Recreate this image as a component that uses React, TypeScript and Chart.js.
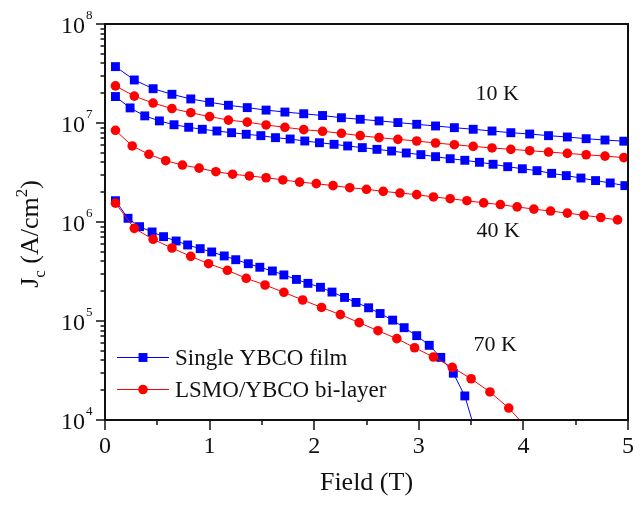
import React, { useEffect, useRef } from 'react';
import { Chart, registerables } from 'chart.js';

Chart.register(...registerables);

// ---------- data (field in T, Jc in A/cm^2) ----------
const FIELD_YBCO_10K = [0.10, 0.28, 0.46, 0.64, 0.82, 1.00, 1.18, 1.36, 1.54, 1.72, 1.90, 2.08, 2.26, 2.44, 2.62, 2.80, 2.98, 3.16, 3.34, 3.52, 3.70, 3.88, 4.06, 4.24, 4.42, 4.60, 4.78, 4.96];
const JC_YBCO_10K = [3.71e7, 2.72e7, 2.22e7, 1.95e7, 1.75e7, 1.62e7, 1.51e7, 1.43e7, 1.35e7, 1.29e7, 1.24e7, 1.19e7, 1.13e7, 1.09e7, 1.05e7, 1.01e7, 9.7e6, 9.33e6, 8.97e6, 8.64e6, 8.30e6, 7.98e6, 7.74e6, 7.45e6, 7.22e6, 6.94e6, 6.73e6, 6.55e6];

const FIELD_LSMO_10K = [0.10, 0.28, 0.46, 0.64, 0.82, 1.00, 1.18, 1.36, 1.54, 1.72, 1.90, 2.08, 2.26, 2.44, 2.62, 2.80, 2.98, 3.16, 3.34, 3.52, 3.70, 3.88, 4.06, 4.24, 4.42, 4.60, 4.78, 4.96];
const JC_LSMO_10K = [2.37e7, 1.87e7, 1.59e7, 1.40e7, 1.27e7, 1.16e7, 1.07e7, 1.02e7, 9.55e6, 9.05e6, 8.57e6, 8.25e6, 7.87e6, 7.45e6, 7.11e6, 6.84e6, 6.58e6, 6.28e6, 6.04e6, 5.80e6, 5.60e6, 5.42e6, 5.25e6, 5.09e6, 4.93e6, 4.78e6, 4.63e6, 4.47e6];

const FIELD_YBCO_40K = [0.10, 0.24, 0.38, 0.52, 0.66, 0.80, 0.93, 1.07, 1.21, 1.35, 1.49, 1.63, 1.77, 1.91, 2.05, 2.19, 2.32, 2.46, 2.60, 2.74, 2.88, 3.02, 3.16, 3.30, 3.44, 3.58, 3.71, 3.85, 3.99, 4.13, 4.27, 4.41, 4.55, 4.69, 4.83, 4.97];
const JC_YBCO_40K = [1.85e7, 1.42e7, 1.18e7, 1.05e7, 9.6e6, 9.05e6, 8.64e6, 8.30e6, 7.98e6, 7.69e6, 7.45e6, 7.11e6, 6.89e6, 6.58e6, 6.32e6, 6.09e6, 5.86e6, 5.64e6, 5.42e6, 5.21e6, 4.98e6, 4.79e6, 4.57e6, 4.36e6, 4.20e6, 4.01e6, 3.83e6, 3.62e6, 3.45e6, 3.30e6, 3.10e6, 2.94e6, 2.78e6, 2.62e6, 2.48e6, 2.33e6];

const FIELD_LSMO_40K = [0.10, 0.26, 0.42, 0.58, 0.74, 0.90, 1.06, 1.22, 1.38, 1.54, 1.70, 1.86, 2.02, 2.18, 2.34, 2.50, 2.66, 2.82, 2.98, 3.14, 3.30, 3.46, 3.62, 3.78, 3.94, 4.10, 4.26, 4.42, 4.58, 4.74, 4.90];
const JC_LSMO_40K = [8.44e6, 5.86e6, 4.83e6, 4.16e6, 3.76e6, 3.50e6, 3.22e6, 3.04e6, 2.92e6, 2.80e6, 2.66e6, 2.53e6, 2.44e6, 2.33e6, 2.22e6, 2.14e6, 2.04e6, 1.96e6, 1.89e6, 1.79e6, 1.72e6, 1.64e6, 1.56e6, 1.50e6, 1.42e6, 1.35e6, 1.29e6, 1.23e6, 1.17e6, 1.11e6, 1.05e6];

const FIELD_YBCO_70K = [0.10, 0.22, 0.33, 0.45, 0.56, 0.68, 0.79, 0.91, 1.02, 1.14, 1.25, 1.37, 1.48, 1.60, 1.71, 1.83, 1.94, 2.06, 2.17, 2.29, 2.40, 2.52, 2.63, 2.75, 2.86, 2.98, 3.10, 3.21, 3.33, 3.44, 3.56];
const JC_YBCO_70K = [1.64e6, 1.09e6, 8.97e5, 7.93e5, 7.11e5, 6.43e5, 5.86e5, 5.38e5, 4.98e5, 4.54e5, 4.16e5, 3.79e5, 3.49e5, 3.20e5, 2.92e5, 2.63e5, 2.40e5, 2.19e5, 1.96e5, 1.73e5, 1.54e5, 1.36e5, 1.19e5, 1.02e5, 8.56e4, 7.11e4, 5.68e4, 4.29e4, 2.97e4, 1.75e4, 6.5e3];

const FIELD_LSMO_70K = [0.10, 0.28, 0.46, 0.64, 0.82, 0.99, 1.17, 1.35, 1.53, 1.71, 1.89, 2.07, 2.25, 2.43, 2.61, 2.79, 2.96, 3.14, 3.32, 3.50, 3.68, 3.86, 4.04];
const JC_LSMO_70K = [1.55e6, 8.63e5, 6.69e5, 5.46e5, 4.50e5, 3.79e5, 3.25e5, 2.70e5, 2.31e5, 1.95e5, 1.63e5, 1.37e5, 1.16e5, 9.62e4, 7.98e4, 6.63e4, 5.37e4, 4.33e4, 3.40e4, 2.61e4, 1.92e4, 1.32e4, 8.2e3];

const SERIES_NAMES = ['Single YBCO film', 'LSMO/YBCO bi-layer'];
const TEMP_LABELS = ['10 K', '40 K', '70 K'];
const X_MAJOR_TICKS = [0, 1, 2, 3, 4, 5];
const X_MINOR_TICKS = [0.5, 1.5, 2.5, 3.5, 4.5];
const Y_DECADES = [4, 5, 6, 7, 8];
const X_TITLE = 'Field (T)';

// ---------- styling ----------
const BLUE = '#0000ff';
const RED = '#ff0000';
const INK = '#111111';
const SERIF = '"Liberation Serif", "Times New Roman", serif';
const SQ_R = 6.3;
const CI_R = 4.8;

const pts = (xs: number[], ys: number[]) => xs.map((x, i) => ({ x, y: ys[i] }));

const blueSet = (xs: number[], ys: number[]) => ({
  data: pts(xs, ys),
  borderColor: BLUE,
  backgroundColor: BLUE,
  borderWidth: 1,
  pointStyle: 'rect',
  pointRadius: SQ_R,
  pointBorderWidth: 0,
  pointBackgroundColor: BLUE,
  tension: 0,
  order: 1,
});
const redSet = (xs: number[], ys: number[]) => ({
  data: pts(xs, ys),
  borderColor: RED,
  backgroundColor: RED,
  borderWidth: 1,
  pointStyle: 'circle',
  pointRadius: CI_R,
  pointBorderWidth: 0,
  pointBackgroundColor: RED,
  tension: 0,
  order: 0,
});

const overlay = {
  id: 'overlay',
  afterDraw(chart: any) {
    const ctx: CanvasRenderingContext2D = chart.ctx;
    const { left, right, top, bottom } = chart.chartArea;
    const xs = chart.scales.x;
    const ys = chart.scales.y;
    ctx.save();
    ctx.strokeStyle = INK;
    ctx.fillStyle = INK;

    // frame
    ctx.lineWidth = 2;
    ctx.strokeRect(left, top, right - left, bottom - top);

    // x ticks
    ctx.lineWidth = 1.5;
    ctx.beginPath();
    for (const v of X_MAJOR_TICKS) {
      const px = Math.round(xs.getPixelForValue(v));
      ctx.moveTo(px, bottom);
      ctx.lineTo(px, bottom + 10);
    }
    for (const v of X_MINOR_TICKS) {
      const px = Math.round(xs.getPixelForValue(v));
      ctx.moveTo(px, bottom);
      ctx.lineTo(px, bottom + 5);
    }
    // y ticks
    for (const e of Y_DECADES) {
      const py = Math.round(ys.getPixelForValue(Math.pow(10, e)));
      ctx.moveTo(left, py);
      ctx.lineTo(left - 9, py);
      if (e < 8) {
        for (let m = 2; m <= 9; m++) {
          const q = Math.round(ys.getPixelForValue(m * Math.pow(10, e)));
          ctx.moveTo(left, q);
          ctx.lineTo(left - 4.5, q);
        }
      }
    }
    ctx.stroke();

    // x tick labels
    ctx.font = `24px ${SERIF}`;
    ctx.textAlign = 'center';
    ctx.textBaseline = 'alphabetic';
    for (const v of X_MAJOR_TICKS) {
      ctx.fillText(String(v), xs.getPixelForValue(v), bottom + 33);
    }
    // y tick labels 10^n
    for (const e of Y_DECADES) {
      const py = ys.getPixelForValue(Math.pow(10, e));
      ctx.font = `24px ${SERIF}`;
      ctx.textAlign = 'right';
      ctx.fillText('10', left - 20, py + 9);
      ctx.font = `13px ${SERIF}`;
      ctx.textAlign = 'left';
      ctx.fillText(String(e), left - 19, py - 5);
    }

    // x title
    ctx.font = `26px ${SERIF}`;
    ctx.textAlign = 'center';
    ctx.fillText(X_TITLE, (left + right) / 2, bottom + 70);

    // y title: J_c (A/cm^2)
    ctx.save();
    ctx.translate(38, 234);
    ctx.rotate(-Math.PI / 2);
    const big = `26px ${SERIF}`;
    const small = `17px ${SERIF}`;
    const parts: [string, string, number][] = [
      ['J', big, 0],
      ['c', small, 7],
      [' (A/cm', big, 0],
      ['2', small, -11],
      [')', big, 0],
    ];
    let total = 0;
    for (const [t, f] of parts) { ctx.font = f; total += ctx.measureText(t).width; }
    let cx = -total / 2;
    ctx.textAlign = 'left';
    for (const [t, f, dy] of parts) {
      ctx.font = f;
      ctx.fillText(t, cx, dy);
      cx += ctx.measureText(t).width;
    }
    ctx.restore();

    // temperature labels
    ctx.font = `22px ${SERIF}`;
    ctx.textAlign = 'center';
    ctx.textBaseline = 'middle';
    ctx.fillText(TEMP_LABELS[0], xs.getPixelForValue(3.75), ys.getPixelForValue(1.96e7));
    ctx.fillText(TEMP_LABELS[1], xs.getPixelForValue(3.76), ys.getPixelForValue(8.1e5));
    ctx.fillText(TEMP_LABELS[2], xs.getPixelForValue(3.73), ys.getPixelForValue(5.7e4));

    // legend
    const lx0 = left + 12, lx1 = left + 64, tx = left + 70;
    const rows = [357.5, 389.5];
    ctx.font = `23px ${SERIF}`;
    ctx.textAlign = 'left';
    ctx.textBaseline = 'alphabetic';
    rows.forEach((ry, i) => {
      const col = i === 0 ? BLUE : RED;
      ctx.strokeStyle = col;
      ctx.lineWidth = 1;
      ctx.beginPath();
      ctx.moveTo(lx0, ry);
      ctx.lineTo(lx1, ry);
      ctx.stroke();
      ctx.fillStyle = col;
      const mx = (lx0 + lx1) / 2;
      if (i === 0) {
        const s = SQ_R * Math.SQRT1_2;
        ctx.fillRect(mx - s, ry - s, 2 * s, 2 * s);
      } else {
        ctx.beginPath();
        ctx.arc(mx, ry, CI_R, 0, Math.PI * 2);
        ctx.fill();
      }
      ctx.fillStyle = INK;
      ctx.fillText(SERIES_NAMES[i], tx, ry + 7);
    });

    ctx.restore();
  },
};

export default function App() {
  const ref = useRef<HTMLCanvasElement>(null);
  useEffect(() => {
    document.body.style.margin = '0';
    const chart = new Chart(ref.current as HTMLCanvasElement, {
      type: 'line',
      data: {
        datasets: [
          blueSet(FIELD_YBCO_10K, JC_YBCO_10K),
          redSet(FIELD_LSMO_10K, JC_LSMO_10K),
          blueSet(FIELD_YBCO_40K, JC_YBCO_40K),
          redSet(FIELD_LSMO_40K, JC_LSMO_40K),
          blueSet(FIELD_YBCO_70K, JC_YBCO_70K),
          redSet(FIELD_LSMO_70K, JC_LSMO_70K),
        ] as any,
      },
      options: {
        responsive: false,
        maintainAspectRatio: false,
        devicePixelRatio: 1,
        animation: false,
        layout: { padding: { left: 105, top: 24, right: 16, bottom: 85 } },
        scales: {
          x: { type: 'linear', min: 0, max: 5, display: false },
          y: { type: 'logarithmic', min: 1e4, max: 1e8, display: false },
        },
        plugins: { legend: { display: false }, tooltip: { enabled: false } },
      },
      plugins: [overlay],
    });
    return () => chart.destroy();
  }, []);
  return (
    <div style={{ position: 'absolute', left: 0, top: 0, width: 644, height: 505, background: '#fff' }}>
      <canvas ref={ref} width={644} height={505} style={{ display: 'block' }} />
    </div>
  );
}
